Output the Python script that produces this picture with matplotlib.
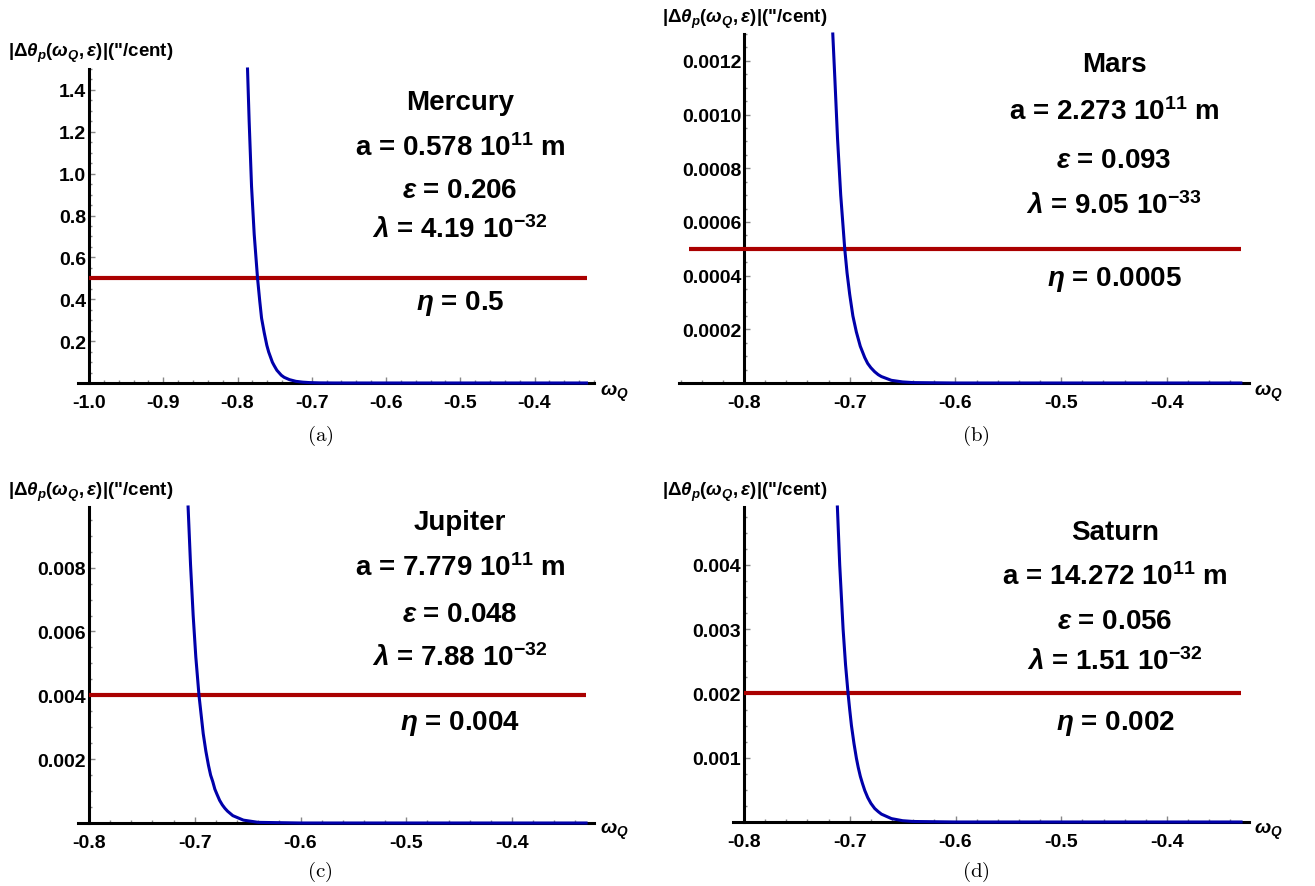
import matplotlib
matplotlib.use("Agg")
import matplotlib.pyplot as plt
from matplotlib.ticker import FixedLocator, AutoMinorLocator, FormatStrFormatter

plt.rcParams["font.family"] = ["Liberation Sans", "DejaVu Sans"]
plt.rcParams["font.weight"] = "bold"
plt.rcParams["mathtext.fontset"] = "custom"
plt.rcParams["mathtext.rm"] = "Liberation Sans:bold"
plt.rcParams["mathtext.bf"] = "Liberation Sans:bold"
plt.rcParams["mathtext.it"] = "Liberation Sans:bold:italic"
plt.rcParams["mathtext.fallback"] = "stixsans"

# planet parameters
planets = ["Mercury", "Mars", "Jupiter", "Saturn"]
semi_major = ["0.578", "2.273", "7.779", "14.272"]
ecc = ["0.206", "0.093", "0.048", "0.056"]
lam_mant = ["4.19", "9.05", "7.88", "1.51"]
lam_exp = ["-32", "-33", "-32", "-32"]
eta = [0.5, 0.0005, 0.004, 0.002]
eta_labels = ["0.5", "0.0005", "0.004", "0.002"]
captions = ["(a)", "(b)", "(c)", "(d)"]

# omega_Q range of each plot and of the eta line
w_start = [-1.0, -0.852, -0.8, -0.8]
w_end = [-0.33, -0.33, -0.33, -0.33]

# |Delta theta_p(omega_Q, eps)| in arcsec per century
w_mercury = [-0.7865, -0.7843, -0.7811, -0.7775, -0.7730, -0.7700, -0.7676, -0.7640,
             -0.7605, -0.7580, -0.7530, -0.7506, -0.7470, -0.7440, -0.7410, -0.7371,
             -0.7300, -0.7214, -0.7120, -0.7034, -0.6900, -0.6700, -0.6000, -0.5000,
             -0.4000, -0.3300]
d_mercury = [1.50, 1.25, 0.94, 0.71, 0.50, 0.39, 0.31, 0.24,
             0.18, 0.148, 0.099, 0.083, 0.061, 0.049, 0.037, 0.027,
             0.016, 0.008, 0.004, 0.002, 0.0006, 0.0001, 0.0, 0.0,
             0.0, 0.0]

w_mars = [-0.7160, -0.7140, -0.7115, -0.7085, -0.7047, -0.7025, -0.7000, -0.6970,
          -0.6937, -0.6900, -0.6858, -0.6830, -0.6800, -0.6764, -0.6730, -0.6700,
          -0.6606, -0.6500, -0.6400, -0.6000, -0.5000, -0.4000, -0.3300]
d_mars = [0.0013, 0.00113, 0.00091, 0.00070, 0.00050, 0.00041, 0.00033, 0.00025,
          0.00019, 0.000137, 0.000095, 0.000073, 0.000057, 0.000042, 0.000031, 0.000024,
          0.000010, 0.000004, 0.0000015, 0.0, 0.0, 0.0, 0.0]

w_jupiter = [-0.7063, -0.7040, -0.7015, -0.6990, -0.6960, -0.6940, -0.6920, -0.6895,
             -0.6870, -0.6850, -0.6830, -0.6810, -0.6790, -0.6765, -0.6740, -0.6715,
             -0.6690, -0.6640, -0.6540, -0.6400, -0.6000, -0.5000, -0.4000, -0.3300]
d_jupiter = [0.0099, 0.0081, 0.0065, 0.0052, 0.0040, 0.0034, 0.0028, 0.00225,
             0.0018, 0.0015, 0.0013, 0.00106, 0.00090, 0.00071, 0.00057, 0.00046,
             0.00037, 0.00023, 0.00009, 0.00002, 0.0, 0.0, 0.0, 0.0]

w_saturn = [-0.7117, -0.7095, -0.7063, -0.7040, -0.7016, -0.7000, -0.6984, -0.6960,
            -0.6937, -0.6920, -0.6900, -0.6880, -0.6858, -0.6830, -0.6800, -0.6764,
            -0.6730, -0.6700, -0.6606, -0.6500, -0.6400, -0.6000, -0.5000, -0.4000,
            -0.3300]
d_saturn = [0.0049, 0.0040, 0.0030, 0.00245, 0.0020, 0.00174, 0.00150, 0.00122,
            0.00099, 0.00085, 0.00071, 0.00060, 0.00049, 0.00038, 0.00029, 0.00021,
            0.00016, 0.000122, 0.000053, 0.000020, 0.000008, 0.0, 0.0, 0.0,
            0.0]

w_data = [w_mercury, w_mars, w_jupiter, w_saturn]
d_data = [d_mercury, d_mars, d_jupiter, d_saturn]

# axis settings
x_ticks = [[-1.0, -0.9, -0.8, -0.7, -0.6, -0.5, -0.4],
           [-0.8, -0.7, -0.6, -0.5, -0.4],
           [-0.8, -0.7, -0.6, -0.5, -0.4],
           [-0.8, -0.7, -0.6, -0.5, -0.4]]
y_ticks = [[0.2, 0.4, 0.6, 0.8, 1.0, 1.2, 1.4],
           [0.0002, 0.0004, 0.0006, 0.0008, 0.0010, 0.0012],
           [0.002, 0.004, 0.006, 0.008],
           [0.001, 0.002, 0.003, 0.004]]
y_fmt = ["%.1f", "%.4f", "%.3f", "%.3f"]
x_lims = [(-1.0148, -0.3199), (-0.861, -0.322), (-0.8104, -0.3225), (-0.8104, -0.3225)]
y_tops = [1.5, 0.0013, 0.0099, 0.0049]
y_axis_at = [-1.0, -0.8, -0.8, -0.8]

W, H = 1315, 887
fig = plt.figure(figsize=(W / 100, H / 100), dpi=100)


def fx(px):
    return px / W


def fy(py):
    return 1 - py / H


# axes boxes in pixels: left, right, top, bottom
boxes = [(78, 594, 70, 384), (679.5, 1249.3, 35, 384),
         (78, 594, 508, 824), (733, 1249, 508, 823)]
# text anchors in pixels
text_cx = [460, 1114, 460, 1115]
text_rows = [[102, 147, 189, 230, 301], [63, 112, 159, 206, 278],
             [522, 568, 614, 658, 722], [531, 577, 621, 662, 722]]
ylab_pos = [(8, 53), (662, 19), (8, 492), (662, 492)]
wlab_pos = [(600, 393), (1254, 393), (600, 831), (1254, 831)]
cap_pos = [(320, 436), (976, 436), (320, 872), (976, 872)]

blue = "#0000aa"
red = "#aa0000"

for i in range(4):
    l, r, t, b = boxes[i]
    ax = fig.add_axes([fx(l), fy(b), (r - l) / W, (b - t) / H])
    ax.set_xlim(*x_lims[i])
    ax.set_ylim(0, y_tops[i])

    ax.plot([w_start[i], w_end[i]], [eta[i], eta[i]], color=red, lw=3.0,
            solid_capstyle="butt", zorder=3)
    ax.plot(w_data[i], d_data[i], color=blue, lw=2.2, clip_on=False, zorder=4,
            solid_joinstyle="round")

    for s in ("top", "right"):
        ax.spines[s].set_visible(False)
    ax.spines["left"].set_position(("data", y_axis_at[i]))
    ax.spines["bottom"].set_position(("data", 0))
    for s in ("left", "bottom"):
        ax.spines[s].set_linewidth(2.2)
        ax.spines[s].set_color("black")
        ax.spines[s].set_zorder(2.5)

    ax.xaxis.set_major_locator(FixedLocator(x_ticks[i]))
    ax.yaxis.set_major_locator(FixedLocator(y_ticks[i]))
    ax.xaxis.set_major_formatter(FormatStrFormatter("%.1f"))
    ax.yaxis.set_major_formatter(FormatStrFormatter(y_fmt[i]))
    ax.xaxis.set_minor_locator(AutoMinorLocator(5))
    ax.yaxis.set_minor_locator(AutoMinorLocator(4))
    ax.tick_params(which="both", direction="in", color="#888888", width=1.0)
    ax.tick_params(which="major", length=4)
    ax.tick_params(which="minor", length=2.5)
    ax.tick_params(axis="x", which="major", pad=8, labelsize=14)
    ax.tick_params(axis="y", which="major", pad=2, labelsize=14)
    for lab in ax.get_xticklabels() + ax.get_yticklabels():
        lab.set_fontweight("bold")

    # parameter block
    cx = fx(text_cx[i])
    rows = text_rows[i]
    lines = [planets[i],
             "a = " + semi_major[i] + " 10$^{11}$ m",
             r"$\epsilon$ = " + ecc[i],
             r"$\lambda$ = " + lam_mant[i] + " 10$^{" + lam_exp[i] + "}$",
             r"$\eta$ = " + eta_labels[i]]
    for txt, row in zip(lines, rows):
        fig.text(cx, fy(row + 8.5), txt, ha="center", va="baseline",
                 fontsize=20, fontweight="bold")

    fig.text(fx(ylab_pos[i][0]), fy(ylab_pos[i][1]),
             r"$|\Delta\theta_p(\omega_Q,\epsilon)|$" + '("/cent)',
             ha="left", va="center", fontsize=13.5, fontweight="bold")
    fig.text(fx(wlab_pos[i][0]), fy(wlab_pos[i][1]), r"$\omega_Q$",
             ha="left", va="center", fontsize=14, fontweight="bold")
    fig.text(fx(cap_pos[i][0]), fy(cap_pos[i][1]), r"$\mathrm{" + captions[i] + "}$",
             ha="center", va="center", fontsize=15, math_fontfamily="cm")

fig.savefig("out.png", dpi=100, facecolor="white")
plt.close(fig)
